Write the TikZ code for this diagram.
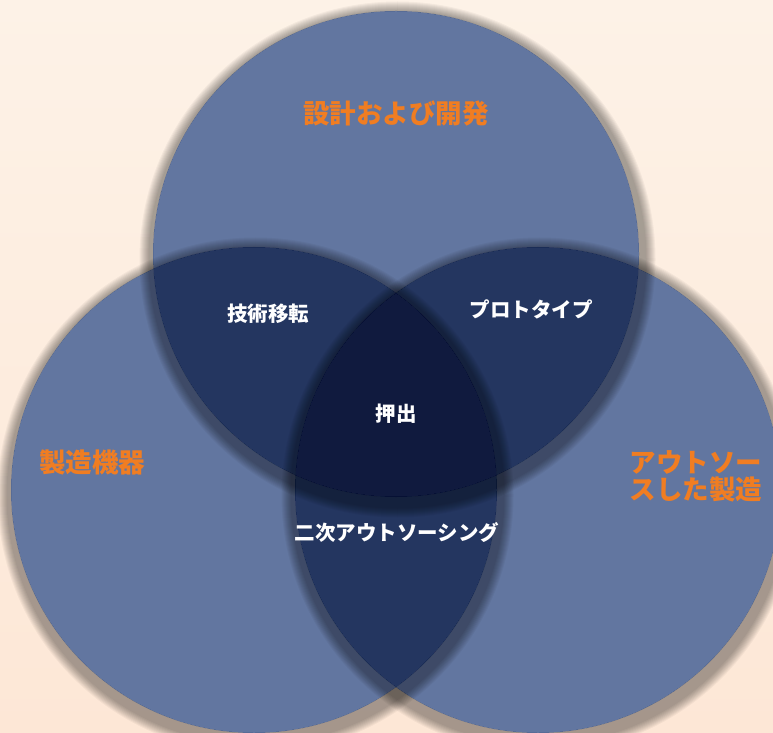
\documentclass[tikz,border=0pt]{standalone}
\usepackage{fontspec}
\newfontfamily\jp{Noto Sans CJK JP}
\usetikzlibrary{calc}
\definecolor{bgtop}{RGB}{253,242,231}
\definecolor{bgbot}{RGB}{253,231,214}
\definecolor{csingle}{RGB}{98,118,160}
\definecolor{cdouble}{RGB}{36,54,96}
\definecolor{ctriple}{RGB}{16,26,62}
\definecolor{corange}{RGB}{240,125,34}
\tikzset{
  biglabel/.style={font=\jp\bfseries\fontsize{26.5}{27}\selectfont, text=corange, align=center, inner sep=0pt},
  smalllabel/.style={font=\jp\bfseries\fontsize{20.5}{22}\selectfont, text=white, align=center, inner sep=0pt},
  shadowring/.style={fill=black, opacity=0.04, even odd rule}
}
\begin{document}
\begin{tikzpicture}[x=1pt,y=1pt]
\shade[top color=bgtop,bottom color=bgbot] (0,0) rectangle (773,732);
\useasboundingbox (0,0) rectangle (773,732);
\def\R{243}
\coordinate (T) at (396,478);
\coordinate (L) at (254,242);
\coordinate (Rt) at (538,242);
% single fills
\fill[csingle] (T) circle (\R);
\fill[csingle] (L) circle (\R);
\fill[csingle] (Rt) circle (\R);
% pairwise
\begin{scope}\clip (T) circle (\R); \fill[cdouble] (L) circle (\R); \fill[cdouble] (Rt) circle (\R);\end{scope}
\begin{scope}\clip (L) circle (\R); \fill[cdouble] (Rt) circle (\R);\end{scope}
% triple
\begin{scope}\clip (T) circle (\R); \clip (L) circle (\R); \fill[ctriple] (Rt) circle (\R);\end{scope}
% shadows cast outward from every edge
\foreach \c in {T,L,Rt}{
  \foreach \k in {6,7,...,15}{
    \fill[shadowring] ($(\c)+(1.5,-5.5)$) circle ({\R+\k}) (\c) circle (\R);
  }
}
% labels
\node[biglabel] (design) at (396,619) {設計および開発};
\node[biglabel] (equip) at (92,270) {製造機器};
\node[biglabel] (outsrc) at (696,256) {アウトソー\\スした製造};
\node[smalllabel] (transfer) at (268,418) {技術移転};
\node[smalllabel] (proto) at (531,423) {プロトタイプ};
\node[smalllabel] (extrude) at (396,318) {押出};
\node[smalllabel] (second) at (397,199) {二次アウトソーシング};
\end{tikzpicture}
\end{document}
